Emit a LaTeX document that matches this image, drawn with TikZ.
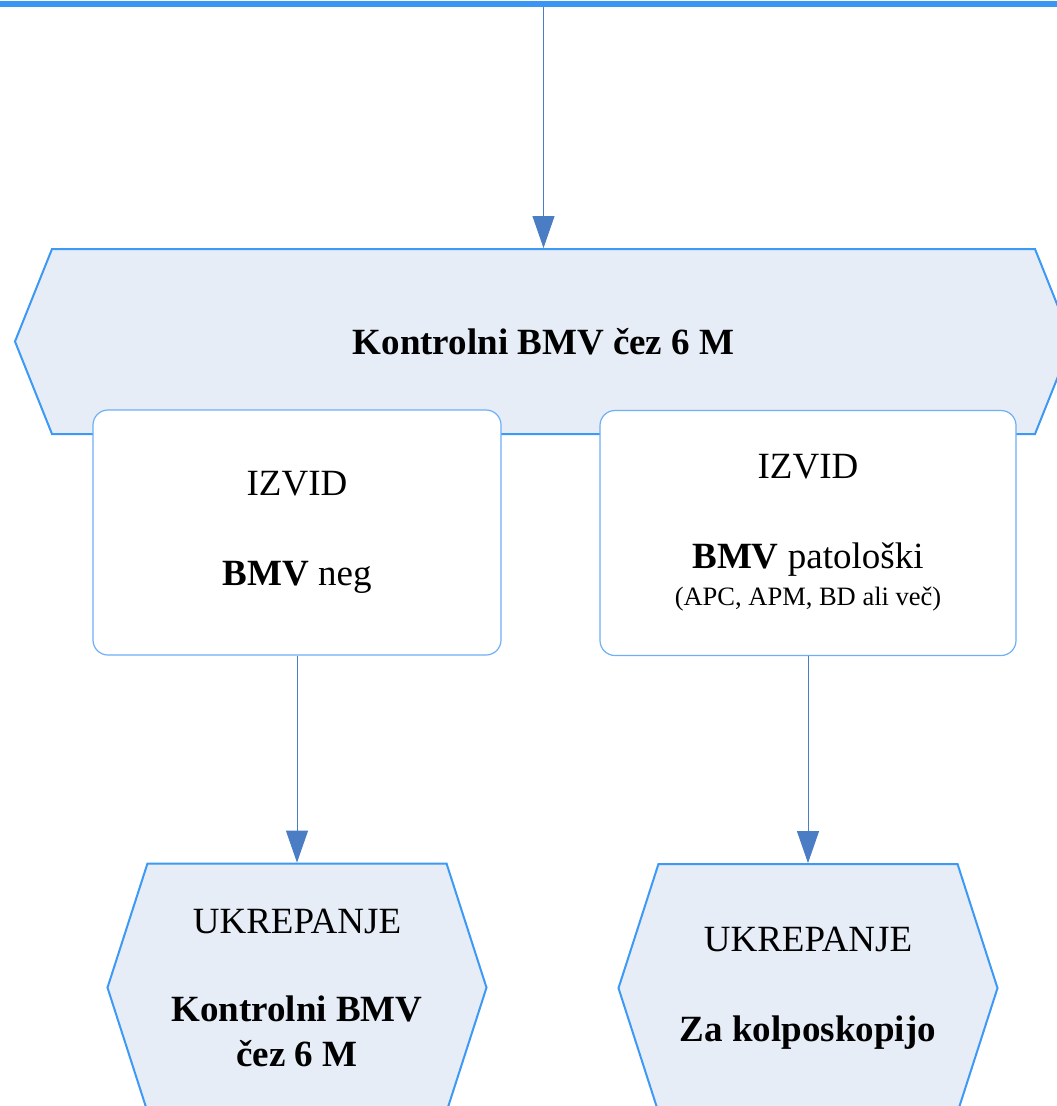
\documentclass[tikz,border=0pt]{standalone}
\usepackage{fontspec}
\setmainfont{Liberation Serif}
\usepackage{tikz}
\usetikzlibrary{shapes.symbols,arrows.meta,positioning}

\definecolor{bandblue}{RGB}{58,150,245}
\definecolor{hexblue}{RGB}{61,153,245}
\definecolor{hexfill}{RGB}{230,237,247}
\definecolor{boxblue}{RGB}{110,175,245}
\definecolor{arrowblue}{RGB}{74,125,196}

\begin{document}
\begin{tikzpicture}[
    x=1pt, y=-1pt,
    hexbox/.style={signal, signal to=west and east, draw=hexblue, fill=hexfill, line width=2pt, align=center, font=\fontsize{37}{45}\selectfont},
    findbox/.style={rectangle, draw=boxblue, fill=white, line width=1.2pt, rounded corners=15pt, minimum height=245pt, align=center, font=\fontsize{37}{45}\selectfont},
    arrow/.style={-{Triangle[length=32pt,width=22pt]}, draw=arrowblue, line width=1pt},
]
\clip (0,0) rectangle (1057,1106);

% --- Feed from above ---
\coordinate (bandL) at (0,4);
\coordinate (bandR) at (1057,4);
\coordinate (feed) at (543.5,4);

% --- Control hexagon ---
\node[hexbox, signal pointer angle=136.4, minimum width=1057pt, minimum height=185pt] (control) at (543.5,341.5) {\textbf{Kontrolni BMV čez 6 M}};

% --- Findings (IZVID) ---
\node[findbox, minimum width=408pt] (izvidneg) at (297,532.5) {IZVID\\[45pt]\textbf{BMV} neg};
\node[findbox, minimum width=416pt] (izvidpat) at (808,533) {IZVID\\[45pt]\textbf{BMV} patološki\\[-8pt]{\fontsize{26.5}{31}\selectfont (APC, APM, BD ali več)}};

% --- Actions (UKREPANJE) ---
\node[hexbox, signal pointer angle=144.3, minimum width=379pt, minimum height=248pt, below=207pt of izvidneg] (ukrepneg) {UKREPANJE\\[43pt]\textbf{Kontrolni BMV}\\\textbf{čez 6 M}};
\node[hexbox, signal pointer angle=144.3, minimum width=379pt, minimum height=248pt, below=207pt of izvidpat] (ukreppat) {UKREPANJE\\[45pt]\textbf{Za kolposkopijo}};

% --- Arrows ---
\draw[arrow] (feed) -- (control.north);
\draw[bandblue, line width=6pt] (bandL) -- (bandR);
\draw[arrow] (izvidneg.south) -- (ukrepneg.north);
\draw[arrow] (izvidpat.south) -- (ukreppat.north);

\end{tikzpicture}
\end{document}
